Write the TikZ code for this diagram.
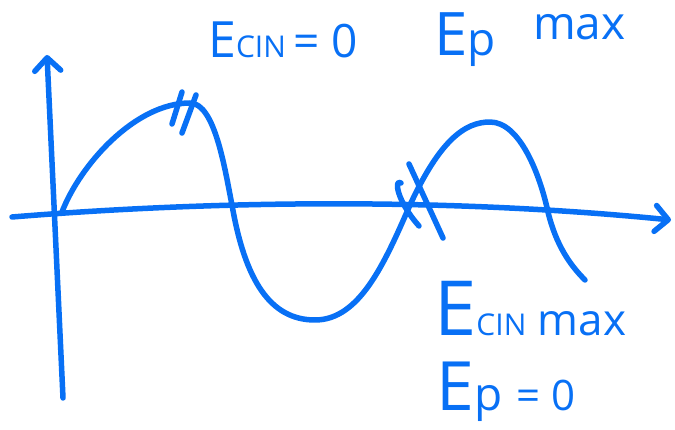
\documentclass[tikz,border=0pt]{standalone}
\usepackage{fontspec}
\setmainfont{Open Sans}
\usetikzlibrary{arrows.meta}
\definecolor{penblue}{RGB}{8,112,245}
\tikzset{
  pen/.style={draw=penblue, line width=5.5pt, line cap=round, line join=round},
  barb/.style={-{Straight Barb[length=13pt,width=26pt,line width=5.5pt,round]}},
  handtext/.style={text=penblue, inner sep=0pt, anchor=base west},
}
\newcommand{\handsz}[1]{\fontsize{#1}{#1}\selectfont}

\begin{document}
\begin{tikzpicture}[x=1pt,y=-1pt]
  \useasboundingbox (0,0) rectangle (675,430);

  % Axes
  \coordinate (origin) at (62,212);
  \coordinate (ytop) at (47,55);
  \coordinate (ybottom) at (63,398);
  \coordinate (xleft) at (12,217);
  \coordinate (xright) at (671,220);
  \draw[pen, barb] (ybottom) -- (ytop);
  \draw[pen, barb] (xleft) .. controls (220,200) and (450,198) .. (xright);

  % Wave
  \draw[pen] (origin) .. controls (80,165) and (135,103) .. (190,103)
    .. controls (215,103) and (225,170) .. (232,205)
    .. controls (245,280) and (270,320) .. (315,320)
    .. controls (360,320) and (385,262) .. (410,205)
    .. controls (440,140) and (465,122) .. (490,122)
    .. controls (520,122) and (540,175) .. (548,212)
    .. controls (556,245) and (570,265) .. (585,280);

  % Marks on the wave
  \draw[pen] (172,124) -- (182,92);
  \draw[pen] (182,133) -- (196,95);
  \draw[pen] (409,164) -- (443,238);
  \draw[pen] (401,183) .. controls (394,178) and (396,200) .. (419,226);

  % Labels
  \node[handtext] (ecinzero) at (208,58) {\handsz{50}E\handsz{30}CIN \handsz{46}= 0};
  \node[handtext] (ep) at (434,56) {\handsz{60}E\handsz{46}p};
  \node[handtext] (max) at (533,40) {\handsz{46}max};
  \node[handtext] (ecinmax) at (434,336) {\handsz{76}E\handsz{30}CIN\handsz{44} max};
  \node[handtext] (epzero) at (436,410) {\handsz{68}E\handsz{46}p\hspace{14pt}\handsz{42}= 0};
\end{tikzpicture}
\end{document}
